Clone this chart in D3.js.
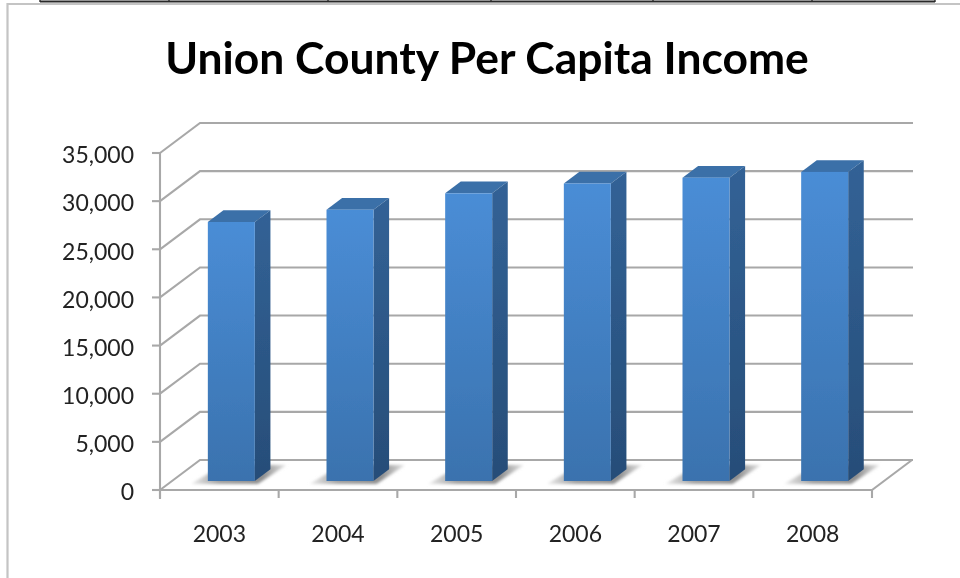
<!DOCTYPE html>
<html><head><meta charset="utf-8">
<script src="https://cdn.jsdelivr.net/npm/d3@7"></script>
<style>html,body{margin:0;padding:0;background:#fff}svg{display:block}text{font-family:Lato,"Open Sans",sans-serif}</style>
</head><body><svg id="c" width="960" height="578"></svg>
<script>
const categories=["2003","2004","2005","2006","2007","2008"];
const values=[26900,28170,29880,30900,31500,32100];
const yTicks=[0,5000,10000,15000,20000,25000,30000,35000];
const titleText="Union County Per Capita Income";

const svg=d3.select("#c");
const defs=svg.append("defs");
function grad(id,a,b){const g=defs.append("linearGradient").attr("id",id).attr("x1",0).attr("y1",0).attr("x2",0).attr("y2",1);
 g.append("stop").attr("offset",0).attr("stop-color",a);g.append("stop").attr("offset",1).attr("stop-color",b);}
grad("front","#4a8dd6","#3a72ae");grad("side","#326296","#274d78");
const sh=defs.append("linearGradient").attr("id","shadow").attr("x1",0).attr("y1",0).attr("x2",1).attr("y2",0);
sh.append("stop").attr("offset",0).attr("stop-color","#ececec");
sh.append("stop").attr("offset",0.3).attr("stop-color","#a0a0a0");
sh.append("stop").attr("offset",0.75).attr("stop-color","#8e8e8e");
sh.append("stop").attr("offset",1).attr("stop-color","#e4e4e4");
const blur=defs.append("filter").attr("id","blur").attr("x","-30%").attr("y","-60%").attr("width","160%").attr("height","220%");
blur.append("feGaussianBlur").attr("stdDeviation",1.8);
const soft=defs.append("filter").attr("id","soft");soft.append("feGaussianBlur").attr("stdDeviation",0.5);
const g=svg.append("g").attr("filter","url(#soft)");

const x=d3.scaleBand().domain(categories).range([160,872]);
const y=d3.scaleLinear().domain([0,35000]).range([490,153]);
const DX=40,DY=-30,grid="#a8a8a8";

// frame and top strip
g.append("path").attr("d","M7.5,578V4H960").attr("fill","none").attr("stroke","#c4c4c4").attr("stroke-width",2.2);
g.append("path").attr("d","M40,1.5H935").attr("fill","none").attr("stroke","#2a2a2a").attr("stroke-width",2);
[40,169,328,491,653,812,935].forEach(px=>g.append("line").attr("x1",px).attr("x2",px).attr("y1",0).attr("y2",2).attr("stroke","#2a2a2a").attr("stroke-width",1.4));

// walls
const ln=d3.line();
yTicks.forEach(t=>{
 g.append("path").attr("fill","none").attr("stroke",grid).attr("stroke-width",2.1)
  .attr("d",ln([[x.range()[0],y(t)],[x.range()[0]+DX,y(t)+DY],[x.range()[1]+DX+1,y(t)+DY]]));
 g.append("line").attr("x1",152).attr("x2",160).attr("y1",y(t)).attr("y2",y(t)).attr("stroke",grid).attr("stroke-width",2.1);
 g.append("text").attr("x",134).attr("y",y(t)+2).attr("dy","0.36em").attr("text-anchor","end")
  .attr("font-size",23).attr("fill","#222").text(d3.format(",")(t));
});
g.append("path").attr("fill","none").attr("stroke",grid).attr("stroke-width",2.1)
 .attr("d",ln([[160,y(35000)],[160,y(0)+9]]));
g.append("path").attr("fill","none").attr("stroke",grid).attr("stroke-width",2.1)
 .attr("d",ln([[160,y(0)],[872,y(0)],[872+DX,y(0)+DY]]));
categories.concat([null]).forEach((c,i)=>{
 const px=160+i*x.step();
 g.append("line").attr("x1",px).attr("x2",px).attr("y1",y(0)).attr("y2",y(0)+8).attr("stroke",grid).attr("stroke-width",2.1);
});

// bars
const barW=x.bandwidth()*0.396,d0=0.3,d1=0.69;
categories.forEach((c,i)=>{
 const cx=x(c)+x.bandwidth()/2+DX*d0,l=cx-barW/2,r=cx+barW/2;
 const b=y(0)+DY*d0,t=b-(y(0)-y(values[i]));
 const sx=DX*(d1-d0),sy=DY*(d1-d0);
 g.append("path").attr("filter","url(#blur)").attr("fill","url(#shadow)")
  .attr("d",ln([[l-17,b+3],[r+3,b+3],[r+sx+16,b-16],[l+15,b-16]])+"Z");
 g.append("path").attr("fill","#3a6fa8").attr("d",ln([[l,t],[l+sx,t+sy],[r+sx,t+sy],[r,t]])+"Z");
 g.append("path").attr("fill","url(#side)").attr("d",ln([[r,t],[r+sx,t+sy],[r+sx,b+sy],[r,b]])+"Z");
 g.append("rect").attr("x",l).attr("y",t).attr("width",barW).attr("height",b-t).attr("fill","url(#front)");
 g.append("text").attr("x",x(c)+x.bandwidth()/2).attr("y",534).attr("dy","0.36em").attr("text-anchor","middle")
  .attr("font-size",23).attr("fill","#222").text(c);
});

g.append("text").attr("x",487).attr("y",58).attr("dy","0.36em").attr("text-anchor","middle")
 .attr("font-size",44.4).attr("font-weight",700).attr("fill","#000").text(titleText);
</script></body></html>
